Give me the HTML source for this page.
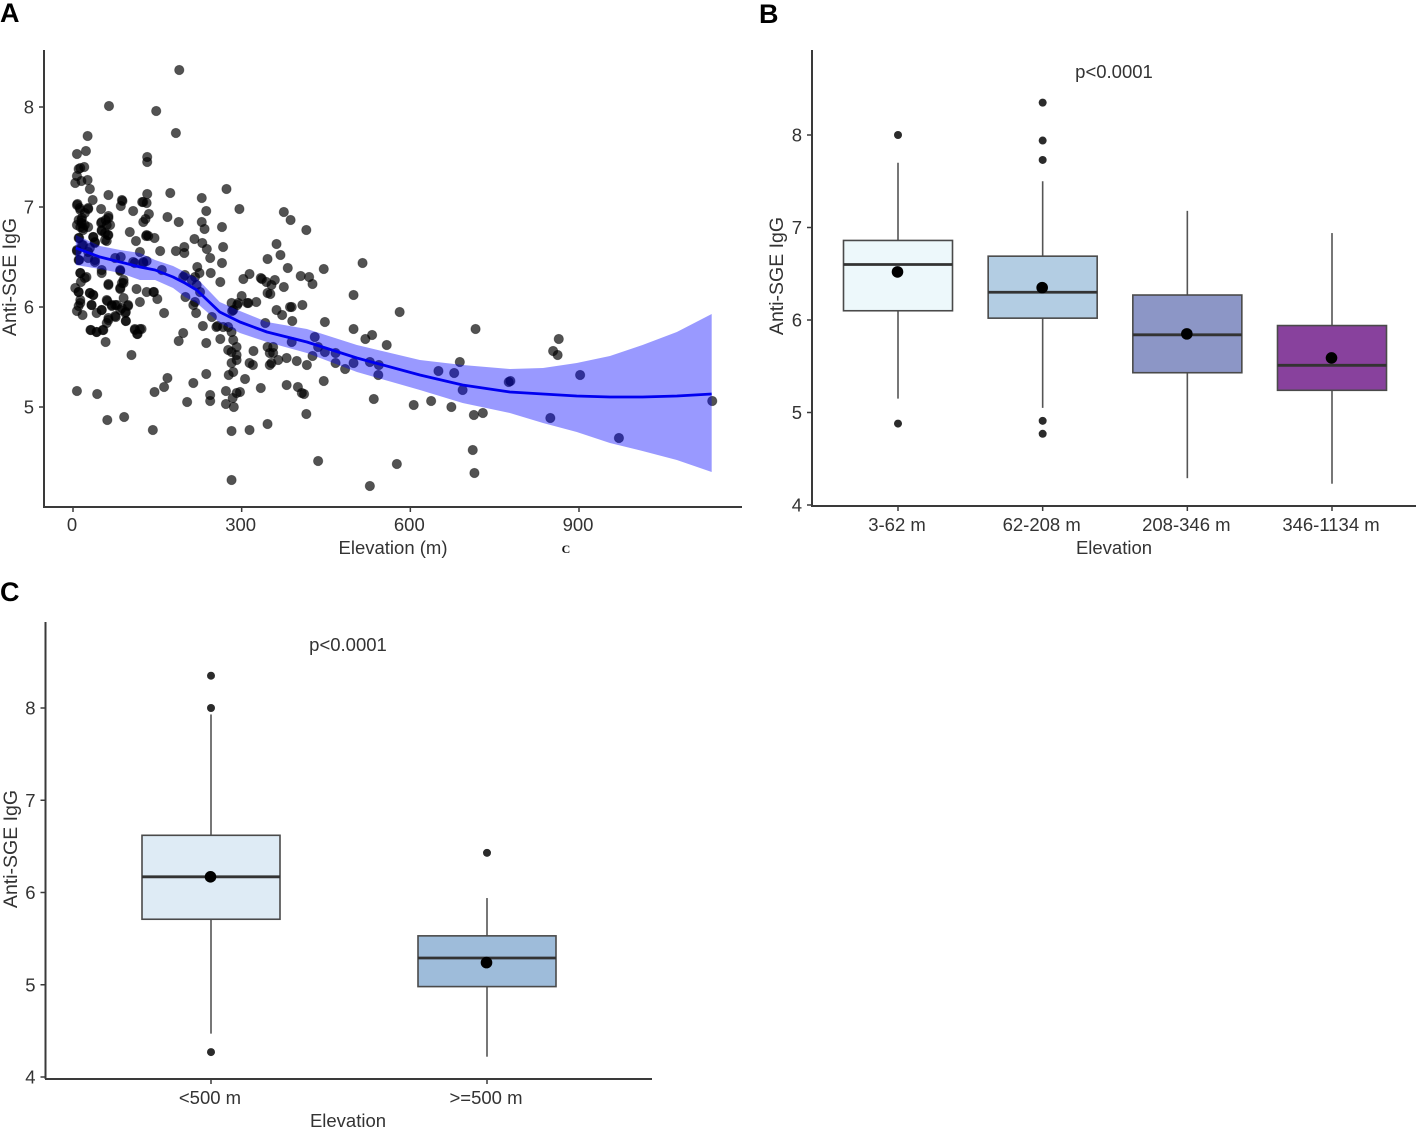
<!DOCTYPE html>
<html lang="en">
<head>
<meta charset="utf-8">
<title>Anti-SGE IgG by elevation</title>
<style>
html,body{margin:0;padding:0;background:#fff;}
body{width:1418px;height:1128px;overflow:hidden;}
svg{display:block;filter:blur(0.3px);}
text{font-family:"Liberation Sans",Arial,sans-serif;fill:#333;font-size:18.5px;}
.panel-letter{font-weight:bold;font-size:27px;fill:#000;}
</style>
</head>
<body>
<svg id="figure" xmlns="http://www.w3.org/2000/svg" width="1418" height="1128" viewBox="0 0 1418 1128">
  <rect x="0" y="0" width="1418" height="1128" fill="#fff"/>
  <text class="panel-letter" x="0" y="22">A</text>
  <text class="panel-letter" x="759" y="23">B</text>
  <text class="panel-letter" x="0" y="601">C</text>
  <text x="566" y="553" text-anchor="middle" style="font-family:'Liberation Serif',serif;font-weight:bold;font-size:12px;fill:#111">C</text>
  <g id="panel-a"></g>
  <g id="panel-b"></g>
  <g id="panel-c"></g>
</svg>
<script>
/* Panel A data */
const aXTicks = [0, 300, 600, 900];
const aYTicks = [5, 6, 7, 8];
const scatterElevation = [
189,64,148,183,26,23,7,132,132,20,
13,10,7,15,26,4,30,273,173,63,
132,229,35,88,85,123,131,8,12,27,
21,50,107,237,296,63,135,168,129,125,
188,229,15,7,15,27,18,58,50,66,
234,265,51,101,63,57,130,134,145,60,
36,39,216,112,230,267,198,238,119,155,
183,198,244,265,346,221,11,18,7,11,
39,27,75,85,84,110,125,131,158,196,
13,24,51,14,10,30,36,13,7,17,33,63,87,84,90,61,75,69,98,51,42,84,94,76,63,94,119,113,131,144,150,162,31,42,53,58,110,122,114,104,196,188,231,237,262,257,247,219,214,200,262,245,225,217,303,314,336,346,300,282,292,312,326,283,342,267,282,285,291,276,282,291,282,291,321,314,320,346,285,277,306,237,214,168,162,145,7,43,203,244,244,272,297,291,284,272,286,334,61,91,142,282,314,346,282,
375,387,415,362,369,382,446,515,405,420,426,359,353,344,334,375,351,499,408,386,389,362,372,390,448,581,499,532,520,558,430,389,356,350,353,365,380,398,416,426,436,448,467,467,484,499,528,544,543,446,380,400,411,407,535,415,436,576,528,356,350,
716,864,854,862,688,650,678,693,606,637,673,713,729,775,778,902,849,971,1137,711,714,
7,13,10,16,21,13,18,27,51,63,60,51,62,57,36,39,30,10,16,7,10,27,39,51,84,107,125,13,21,63,90,4,131,87,125,
10,13,10,30,36,33,51,60,69,78,87,98,93,75,63,60,94,32,42,54,110,119,115,84,90,143,
211,199,220,226,217,255,276,294,310,285
];
const scatterIgg = [
8.37,8.01,7.96,7.74,7.71,7.56,7.53,7.50,7.45,7.40,
7.39,7.38,7.31,7.26,7.27,7.24,7.18,7.18,7.14,7.12,
7.13,7.09,7.07,7.06,7.01,7.05,7.04,7.03,6.99,6.98,
6.94,6.98,6.96,6.96,6.98,6.91,6.93,6.90,6.88,6.85,
6.85,6.85,6.87,6.82,6.84,6.80,6.79,6.87,6.84,6.82,
6.78,6.80,6.76,6.75,6.72,6.74,6.71,6.71,6.69,6.66,
6.70,6.65,6.68,6.66,6.64,6.60,6.60,6.58,6.55,6.56,
6.56,6.54,6.49,6.44,6.48,6.40,6.69,6.62,6.56,6.47,
6.47,6.55,6.49,6.50,6.36,6.44,6.44,6.46,6.37,6.30,
6.34,6.30,6.34,6.25,6.15,6.14,6.12,6.04,5.96,5.92,6.02,6.23,6.24,6.18,6.09,6.06,6.02,6.01,6.01,5.97,5.94,5.97,5.95,5.90,5.87,5.86,6.05,6.18,6.15,6.15,6.08,5.94,5.77,5.75,5.77,5.65,5.78,5.78,5.73,5.52,5.74,5.66,5.81,5.64,5.68,5.81,5.90,5.94,6.02,6.10,6.25,6.34,6.34,6.30,6.28,6.33,6.28,6.14,6.11,6.04,6.02,6.04,6.05,5.96,5.84,5.80,5.75,5.67,5.60,5.57,5.55,5.52,5.44,5.47,5.56,5.44,5.42,5.60,5.35,5.32,5.28,5.33,5.24,5.29,5.20,5.15,5.16,5.13,5.05,5.12,5.06,5.16,5.15,5.14,5.09,5.03,5.00,5.19,4.87,4.90,4.77,4.76,4.77,4.83,4.27,
6.95,6.87,6.77,6.63,6.52,6.39,6.38,6.44,6.31,6.30,6.23,6.27,6.22,6.25,6.29,6.20,6.13,6.12,6.02,6.00,6.00,5.97,5.92,5.86,5.85,5.95,5.78,5.72,5.68,5.62,5.70,5.65,5.60,5.54,5.44,5.47,5.49,5.46,5.42,5.51,5.60,5.55,5.54,5.44,5.38,5.44,5.45,5.42,5.32,5.26,5.22,5.20,5.13,5.14,5.08,4.93,4.46,4.43,4.21,5.54,5.42,
5.78,5.68,5.56,5.52,5.45,5.36,5.34,5.17,5.02,5.06,5.00,4.92,4.94,5.25,5.26,5.32,4.89,4.69,5.06,4.57,4.34,
7.02,6.97,6.87,6.89,6.82,6.80,6.77,6.99,6.85,6.89,6.82,6.77,6.72,6.67,6.70,6.64,6.59,6.69,6.62,6.57,6.47,6.49,6.45,6.37,6.37,6.45,6.45,6.34,6.29,6.22,6.27,6.19,6.72,7.07,7.05,
6.15,6.07,6.01,6.14,6.12,6.02,5.97,6.07,6.02,6.02,5.99,6.02,5.94,5.91,5.89,5.84,5.86,5.77,5.75,5.77,5.77,5.78,5.73,6.19,6.24,6.15,
6.27,6.32,6.22,6.15,6.05,5.80,5.80,6.04,6.04,5.97
];
const fitElevation = [5,48,84,119,146,178,199,220,261,297,345,416,505,617,693,777,836,896,955,1013,1074,1136];
const fitValue = [6.59,6.50,6.45,6.40,6.37,6.30,6.24,6.17,5.95,5.85,5.75,5.65,5.49,5.32,5.22,5.15,5.13,5.11,5.10,5.10,5.11,5.13];
const fitUpper = [6.72,6.61,6.57,6.54,6.47,6.41,6.35,6.29,6.05,5.96,5.85,5.78,5.62,5.47,5.42,5.38,5.39,5.44,5.51,5.62,5.75,5.93];
const fitLower = [6.42,6.38,6.34,6.27,6.27,6.19,6.10,6.04,5.84,5.74,5.65,5.54,5.35,5.17,5.04,4.94,4.84,4.75,4.64,4.56,4.47,4.35];

/* Panel B data */
const bCategories = ["3-62 m", "62-208 m", "208-346 m", "346-1134 m"];
const bWhiskerHigh = [7.70, 7.50, 7.18, 6.94];
const bQ3 = [6.86, 6.69, 6.27, 5.94];
const bMedian = [6.60, 6.30, 5.84, 5.51];
const bQ1 = [6.10, 6.02, 5.43, 5.24];
const bWhiskerLow = [5.15, 5.05, 4.29, 4.23];
const bMean = [6.52, 6.35, 5.85, 5.59];
const bOutliers = [[8.00, 4.88], [8.35, 7.94, 7.73, 4.91, 4.77], [], []];
const bYTicks = [4, 5, 6, 7, 8];
const bFills = ["#edf8fb", "#b3cde3", "#8c96c6", "#88419d"];

/* Panel C data */
const cCategories = ["<500 m", ">=500 m"];
const cWhiskerHigh = [7.93, 5.94];
const cQ3 = [6.62, 5.53];
const cMedian = [6.17, 5.29];
const cQ1 = [5.71, 4.98];
const cWhiskerLow = [4.47, 4.22];
const cMean = [6.17, 5.24];
const cOutliers = [[8.35, 8.00, 4.27], [6.43]];
const cYTicks = [4, 5, 6, 7, 8];
const cFills = ["#deebf5", "#9ebcda"];

const SVGNS = "http://www.w3.org/2000/svg";
const AXIS = "#3a3a3a";

function make(parent, tag, attrs, txt) {
  const e = document.createElementNS(SVGNS, tag);
  for (const k in attrs) e.setAttribute(k, attrs[k]);
  if (txt !== undefined) e.textContent = txt;
  parent.appendChild(e);
  return e;
}
function linear(d0, d1, r0, r1) {
  return function (v) { return r0 + (v - d0) * (r1 - r0) / (d1 - d0); };
}

function drawYAxis(g, axX, top, bottom, ticks, yScale, prefix) {
  const line = make(g, "line", {x1: axX, x2: axX, y1: top, y2: bottom + 1, stroke: AXIS, "stroke-width": 2});
  
  
  ticks.forEach(function (t) {
    const tick = make(g, "line", {x1: axX - 5, x2: axX, y1: yScale(t), y2: yScale(t), stroke: AXIS, "stroke-width": 1.5});
    
    
    const lab = make(g, "text", {x: axX - 10, y: yScale(t) + 6.5, "text-anchor": "end"}, String(t));
    
    
  });
}
function drawXAxis(g, axY, left, right, ticks, xScale, labels, prefix, labelY) {
  const line = make(g, "line", {x1: left, x2: right, y1: axY, y2: axY, stroke: AXIS, "stroke-width": 2});
  
  
  ticks.forEach(function (t, i) {
    const tick = make(g, "line", {x1: xScale(t), x2: xScale(t), y1: axY, y2: axY + 5, stroke: AXIS, "stroke-width": 1.5});
    
    
    const lab = make(g, "text", {x: xScale(t) - 1, y: labelY, "text-anchor": "middle"}, String(labels[i]));
    
    
  });
}
function drawYTitle(g, x, y, prefix) {
  const t = make(g, "text", {transform: "translate(" + x + "," + y + ") rotate(-90)", "text-anchor": "middle", style: "font-size:19.5px"}, "Anti-SGE IgG");
  
  
}
function drawXTitle(g, x, y, text, prefix) {
  const t = make(g, "text", {x: x, y: y, "text-anchor": "middle"}, text);
  
  
}

function drawBoxes(g, prefix, s, yScale, xPos, halfW) {
  s.categories.forEach(function (cat, i) {
    const x = xPos(i);
    const wh = make(g, "line", {x1: x, x2: x, y1: yScale(s.high[i]), y2: yScale(s.q3[i]), stroke: "#555", "stroke-width": 1.6});
    
    
    const wl = make(g, "line", {x1: x, x2: x, y1: yScale(s.q1[i]), y2: yScale(s.low[i]), stroke: "#555", "stroke-width": 1.6});
    
    
    const box = make(g, "rect", {x: x - halfW, y: yScale(s.q3[i]), width: 2 * halfW, height: yScale(s.q1[i]) - yScale(s.q3[i]), fill: s.fills[i], stroke: "#4a4a4a", "stroke-width": 1.6});
    
    
    const med = make(g, "line", {x1: x - halfW, x2: x + halfW, y1: yScale(s.median[i]), y2: yScale(s.median[i]), stroke: "#333", "stroke-width": 2.8});
    
    
    const mean = make(g, "circle", {cx: x - 0.5, cy: yScale(s.mean[i]), r: 5.8, fill: "#000"});
    
    
    s.outliers[i].forEach(function (v) {
      const o = make(g, "circle", {cx: x, cy: yScale(v), r: 4, fill: "#2b2b2b"});
      
      
    });
  });
}

/* ---- Panel A ---- */
(function () {
  const g = document.getElementById("panel-a");
  const x = linear(0, 900, 73, 579);
  const y = linear(5, 8, 407, 107);
  scatterElevation.forEach(function (e, i) {
    const p = make(g, "circle", {cx: x(e), cy: y(scatterIgg[i]), r: 4.7, fill: "#000", "fill-opacity": 0.68, stroke: "#000", "stroke-opacity": 0.35, "stroke-width": 0.9});
    
    
  });
  const up = fitElevation.map(function (e, i) { return x(e) + "," + y(fitUpper[i]); });
  const lo = fitElevation.map(function (e, i) { return x(e) + "," + y(fitLower[i]); }).reverse();
  const rib = make(g, "polygon", {points: up.concat(lo).join(" "), fill: "#0000ff", "fill-opacity": 0.4});
  
  
  const pts = fitElevation.map(function (e, i) { return x(e) + "," + y(fitValue[i]); }).join(" ");
  const fl = make(g, "polyline", {points: pts, fill: "none", stroke: "#0000f0", "stroke-width": 2.8, "stroke-linejoin": "round"});
  
  
  drawYAxis(g, 44, 50, 507, aYTicks, y, "panel-a");
  drawXAxis(g, 507, 43, 742, aXTicks, x, aXTicks, "panel-a", 531);
  drawYTitle(g, 16, 277, "panel-a");
  drawXTitle(g, 393, 554, "Elevation (m)", "panel-a");
})();

/* ---- Panel B ---- */
(function () {
  const g = document.getElementById("panel-b");
  const y = linear(4, 8, 505, 135);
  const xPos = linear(0, 3, 898, 1332);
  drawBoxes(g, "panel-b", {categories: bCategories, high: bWhiskerHigh, q3: bQ3, median: bMedian, q1: bQ1, low: bWhiskerLow, mean: bMean, outliers: bOutliers, fills: bFills}, y, xPos, 54.5);
  drawYAxis(g, 812, 50, 506, bYTicks, y, "panel-b");
  drawXAxis(g, 506, 811, 1416, bCategories.map(function (c, i) { return i; }), xPos, bCategories, "panel-b", 531);
  drawYTitle(g, 783, 276, "panel-b");
  drawXTitle(g, 1114, 554, "Elevation", "panel-b");
  const p = make(g, "text", {x: 1114, y: 78, "text-anchor": "middle"}, "p<0.0001");
  
  
})();

/* ---- Panel C ---- */
(function () {
  const g = document.getElementById("panel-c");
  const y = linear(4, 8, 1077, 708);
  const xPos = linear(0, 1, 211, 487);
  drawBoxes(g, "panel-c", {categories: cCategories, high: cWhiskerHigh, q3: cQ3, median: cMedian, q1: cQ1, low: cWhiskerLow, mean: cMean, outliers: cOutliers, fills: cFills}, y, xPos, 69);
  drawYAxis(g, 45.5, 622, 1078, cYTicks, y, "panel-c");
  drawXAxis(g, 1079, 45, 652, cCategories.map(function (c, i) { return i; }), xPos, cCategories, "panel-c", 1104);
  drawYTitle(g, 17, 849, "panel-c");
  drawXTitle(g, 348, 1127, "Elevation", "panel-c");
  const p = make(g, "text", {x: 348, y: 651, "text-anchor": "middle"}, "p<0.0001");
  
  
})();
</script>
</body>
</html>
